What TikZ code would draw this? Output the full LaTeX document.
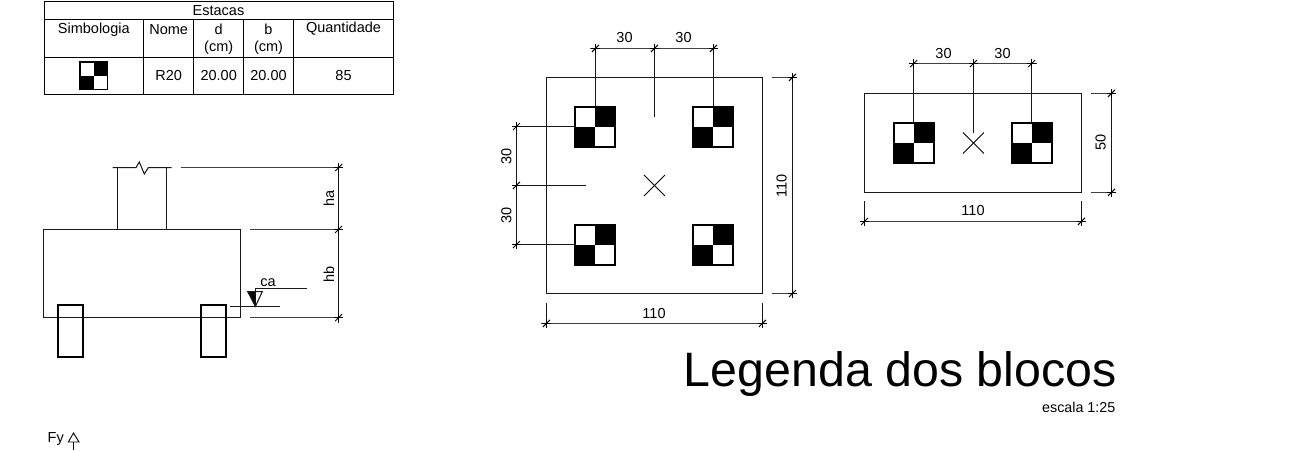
\documentclass[tikz,border=0pt]{standalone}
\usepackage{fontspec}
\setmainfont{Liberation Sans}
\tikzset{
  geo/.style={line width=1.05pt,black!90},
  dimln/.style={line width=1.15pt,black!75},
  pile/.style={line width=1.7pt,black},
  tbl/.style={line width=1.15pt,black},
  txt/.style={inner sep=0pt,font=\fontsize{14.5}{16}\selectfont,text=black},
  stakebox/.style={line width=1.7pt,draw=black,fill=white},
}
\newcommand{\stake}[3]{% left, top, size
  \draw[stakebox] (#1,#2) rectangle ++(#3,#3);
  \fill[black] ({#1+#3/2},#2) rectangle ++({#3/2},{#3/2});
  \fill[black] (#1,{#2+#3/2}) rectangle ++({#3/2},{#3/2});
}
\newcommand{\tick}[2]{% x, y
  \draw[line width=1pt] ({#1-3.5},{#2+3.5}) -- ({#1+3.5},{#2-3.5});
  \draw[line width=0.8pt] ({#1-4.5},{#2}) -- ({#1+4.5},{#2});
  \draw[line width=0.8pt] ({#1},{#2-4.5}) -- ({#1},{#2+4.5});
}
\newcommand{\crossmark}[2]{%
  \draw[line width=0.9pt] ({#1-10.5},{#2-10.5}) -- ({#1+10.5},{#2+10.5});
  \draw[line width=0.9pt] ({#1-10.5},{#2+10.5}) -- ({#1+10.5},{#2-10.5});
}
\begin{document}
\begin{tikzpicture}[x=1pt,y=-1pt]
\useasboundingbox (0,0) rectangle (1305,450);
% ---- table
\draw[tbl] (44.4,1.5) rectangle (393.4,94.4);
\draw[tbl] (44.4,19.5) -- (393.4,19.5);
\draw[tbl] (44.4,57.4) -- (393.4,57.4);
\foreach \x in {143.6,193.6,243.6,293.4} \draw[tbl] (\x,19.5) -- (\x,94.4);
\node[txt] (tTitle) at (218.5,10.5) {Estacas};
\node[txt] (tSimb) at (93.8,29.5) {Simbologia};
\node[txt] (tNome) at (168.7,29.5) {Nome};
\node[txt] (tD) at (218.7,29.5) {d};
\node[txt] (tDu) at (218.7,48) {(cm)};
\node[txt] (tB) at (268.5,29.5) {b};
\node[txt] (tBu) at (268.5,48) {(cm)};
\node[txt] (tQ) at (343.5,29) {Quantidade};
\node[txt] (vN) at (168.7,76) {R20};
\node[txt] (vD) at (218.7,76) {20.00};
\node[txt] (vB) at (268.5,76) {20.00};
\node[txt] (vQ) at (343.5,76) {85};
\stake{80}{62}{27.5}
% ---- elevation
\draw[geo] (43.6,229.4) rectangle (240.4,317.6);
\draw[geo] (117.4,167.6) -- (117.4,229.4) (166.4,167.6) -- (166.4,229.4);
\draw[geo] (112.7,167.6) -- (136,167.6) -- (139.3,162) -- (144.3,174) -- (148.3,167.6) -- (171.7,167.6);
\draw[pile] (58.3,304.7) rectangle (83.3,357.3);
\draw[pile] (200.7,304.7) rectangle (225.7,357.3);
\draw[dimln] (181,167.6) -- (343,167.6);
\draw[dimln] (250,229.4) -- (343,229.4);
\draw[dimln] (250,317.6) -- (343,317.6);
\draw[geo] (338.6,163) -- (338.6,322.5);
\tick{338.6}{167.6}\tick{338.6}{229.4}\tick{338.6}{317.6}
\node[txt,rotate=90] (ha) at (329,198.5) {ha};
\node[txt,rotate=90] (hb) at (329,274) {hb};
\node[txt] (ca) at (268,282.5) {ca};
\draw[geo] (230,306.4) -- (280,306.4);
\draw[geo] (255.4,288.4) -- (306.7,288.4);
\draw[geo] (255.4,288.4) -- (255.4,306.4);
\fill[black] (247.7,291.6) -- (255.4,291.6) -- (255.4,306.4) -- cycle;
\draw[geo] (247.7,291.6) -- (262.3,291.6) -- (255.4,306.4) -- cycle;
% ---- square block
\draw[geo] (546.4,77.4) rectangle (762.4,293.6);
\crossmark{654.4}{185.5}
\draw[dimln] (590,48.4) -- (718,48.4);
\draw[geo] (595.4,44) -- (595.4,106.7);
\draw[geo] (654.4,44) -- (654.4,117.3);
\draw[geo] (713.4,44) -- (713.4,106.7);
\tick{595.4}{48.4}\tick{654.4}{48.4}\tick{713.4}{48.4}
\node[txt] (d1) at (624.5,38) {30};
\node[txt] (d2) at (683.5,38) {30};
\draw[geo] (516.4,122) -- (516.4,249);
\draw[geo] (512,126.6) -- (575.3,126.6);
\draw[geo] (512,185.5) -- (586,185.5);
\draw[geo] (512,244.6) -- (575.3,244.6);
\tick{516.4}{126.6}\tick{516.4}{185.5}\tick{516.4}{244.6}
\node[txt,rotate=90] (d3) at (506.5,156) {30};
\node[txt,rotate=90] (d4) at (506.5,215) {30};
\stake{575.3}{106.7}{40}
\stake{693.3}{106.7}{40}
\stake{575.3}{224.7}{40}
\stake{693.3}{224.7}{40}
\draw[dimln] (772,77.4) -- (797,77.4) (772,293.6) -- (797,293.6);
\draw[geo] (792.4,73) -- (792.4,298);
\tick{792.4}{77.4}\tick{792.4}{293.6}
\node[txt,rotate=90] (d5) at (781.5,186) {110};
\draw[dimln] (541,323.4) -- (767,323.4);
\draw[geo] (546.4,303.3) -- (546.4,328) (762.4,303.3) -- (762.4,328);
\tick{546.4}{323.4}\tick{762.4}{323.4}
\node[txt] (d6) at (654,313.5) {110};
% ---- rectangular block
\draw[geo] (864.6,93.4) rectangle (1081.4,192.4);
\crossmark{973.4}{143}
\draw[dimln] (908.5,63.6) -- (1036.5,63.6);
\draw[geo] (913.6,59.5) -- (913.6,122.7);
\draw[geo] (973.4,59.5) -- (973.4,133);
\draw[geo] (1031.6,59.5) -- (1031.6,122.7);
\tick{913.6}{63.6}\tick{973.4}{63.6}\tick{1031.6}{63.6}
\node[txt] (e1) at (943.5,54) {30};
\node[txt] (e2) at (1002.5,54) {30};
\stake{893.7}{122.7}{40}
\stake{1011.7}{122.7}{40}
\draw[dimln] (1090.7,93.4) -- (1116,93.4) (1090.7,192.4) -- (1116,192.4);
\draw[geo] (1111.4,89) -- (1111.4,196.5);
\tick{1111.4}{93.4}\tick{1111.4}{192.4}
\node[txt,rotate=90] (e3) at (1100.5,142.5) {50};
\draw[dimln] (860,221.4) -- (1086,221.4);
\draw[geo] (864.6,201) -- (864.6,226) (1081.4,201) -- (1081.4,226);
\tick{864.6}{221.4}\tick{1081.4}{221.4}
\node[txt] (e4) at (973,211) {110};
% ---- title
\node[inner sep=0pt,anchor=base east,font=\fontsize{48.3}{50}\selectfont] (title) at (1116.5,386) {Legenda dos blocos};
\node[txt,anchor=base east,font=\fontsize{14.3}{16}\selectfont] (scale) at (1115.5,412) {escala 1:25};
% ---- Fy
\node[txt,anchor=base west] (fy) at (47.5,442) {Fy};
\draw[line width=0.9pt] (73.5,433) -- (79,442) -- (68.3,442) -- cycle;
\draw[line width=0.9pt] (73.5,442) -- (73.5,450);
\end{tikzpicture}
\end{document}
